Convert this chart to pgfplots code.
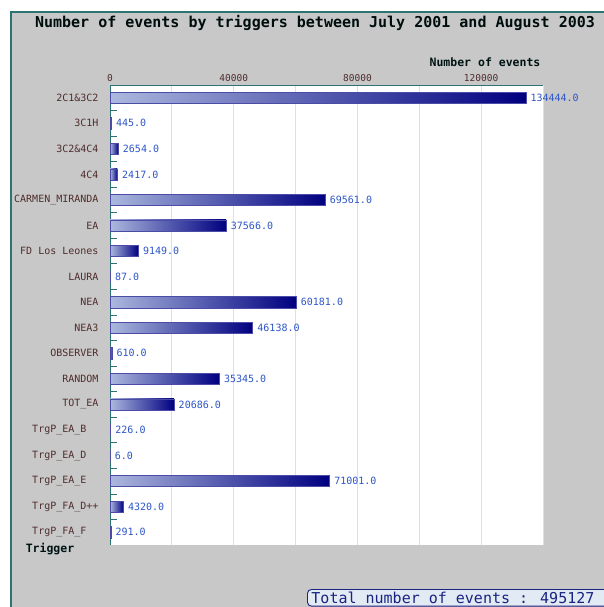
\documentclass[border=0pt]{standalone}
\usepackage{fontspec}
\setmainfont{DejaVu Sans Mono}
\usepackage{pgfplots}
\pgfplotsset{compat=1.18}
\pgfkeys{/pgf/number format/assume math mode=true}
\definecolor{bgc}{RGB}{200,200,200}
\definecolor{framec}{RGB}{45,115,115}
\definecolor{labc}{RGB}{80,45,45}
\definecolor{valc}{RGB}{45,85,200}
\definecolor{barlight}{RGB}{172,184,222}
\definecolor{bardark}{RGB}{0,0,128}
\definecolor{gridc}{RGB}{232,218,222}
\definecolor{totc}{RGB}{25,35,130}
\definecolor{totbg}{RGB}{226,234,244}
\pgfplotsset{bb/.style={xbar, bar shift=0pt, draw=bardark!70!white, line width=0.5pt, left color=barlight, middle color=bardark!72!barlight, right color=bardark}}
\begin{document}
\begin{tikzpicture}[x=1pt,y=1pt]
\useasboundingbox (0,0) rectangle (604,-607);
\clip (0,0) rectangle (604,-607);
\fill[white] (0,0) rectangle (604,-607);
\filldraw[fill=bgc, draw=framec, line width=1.3pt] (11,-12) rectangle (640,-640);
\node[font=\fontsize{15}{15}\selectfont\bfseries, text=black!90!teal] at (315,-23) {Number of events by triggers between July 2001 and August 2003};
\begin{axis}[
  at={(110pt,-545pt)}, anchor=south west, scale only axis,
  width=433pt, height=460pt,
  xbar, bar width=0.44,
  xmin=0, xmax=140000, ymin=-0.5, ymax=17.5, y dir=reverse,
  axis background/.style={fill=white},
  separate axis lines,
  axis x line*=top, axis y line*=left,
  axis line style={framec, line width=0.9pt, -},
  scaled x ticks=false,
  xtick={0,40000,80000,120000},
  minor xtick={20000,60000,100000,140000},
  xticklabels={0,40000,80000,120000},
  xticklabel style={font=\fontsize{9.5}{9.5}\selectfont, text=labc},
  xmajorgrids, xminorgrids,
  major grid style={gridc, line width=0.8pt},
  minor grid style={gridc, line width=0.8pt},
  x tick style={draw=none},
  ytick={0,...,17},
  yticklabels={2C1\&3C2, 3C1H, 3C2\&4C4, 4C4, CARMEN\_MIRANDA, EA, FD Los Leones, LAURA, NEA, NEA3, OBSERVER, RANDOM, TOT\_EA, TrgP\_EA\_B\hphantom{xx}, TrgP\_EA\_D\hphantom{xx}, TrgP\_EA\_E\hphantom{xx}, TrgP\_FA\_D++, TrgP\_FA\_F\hphantom{xx}},
  yticklabel style={font=\fontsize{10}{10}\selectfont, text=labc, xshift=-8pt},
  major y tick style={draw=none},
  minor ytick={0.5,1.5,...,16.5},
  minor y tick style={framec, line width=0.8pt},
  minor tick length=7pt,
  tick align=inside,
  point meta=x,
  nodes near coords={\pgfmathprintnumber[fixed,fixed zerofill,precision=1,1000 sep={},assume math mode=true]{\pgfplotspointmeta}},
  nodes near coords style={font=\fontsize{10}{10}\selectfont, text=valc, anchor=west, inner sep=2pt, xshift=2.5pt},
  clip=false,
]
\addplot[bb] coordinates {(134444,0)};
\addplot[bb] coordinates {(445,1)};
\addplot[bb] coordinates {(2654,2)};
\addplot[bb] coordinates {(2417,3)};
\addplot[bb] coordinates {(69561,4)};
\addplot[bb] coordinates {(37566,5)};
\addplot[bb] coordinates {(9149,6)};
\addplot[bb] coordinates {(87,7)};
\addplot[bb] coordinates {(60181,8)};
\addplot[bb] coordinates {(46138,9)};
\addplot[bb] coordinates {(610,10)};
\addplot[bb] coordinates {(35345,11)};
\addplot[bb] coordinates {(20686,12)};
\addplot[bb] coordinates {(226,13)};
\addplot[bb] coordinates {(6,14)};
\addplot[bb] coordinates {(71001,15)};
\addplot[bb] coordinates {(4320,16)};
\addplot[bb] coordinates {(291,17)};
\end{axis}
\node[font=\fontsize{11.5}{11.5}\selectfont\bfseries, text=black!85!teal] at (485,-62) {Number of events};
\node[font=\fontsize{11.5}{11.5}\selectfont\bfseries, text=black!85!teal] at (50,-549) {Trigger};
\node[draw=totc, line width=0.9pt, rounded corners=4pt, fill=totbg, text=totc, font=\fontsize{15}{15}\selectfont, anchor=north west, inner xsep=4pt, inner ysep=2.5pt] at (307,-589) {Total number of events : 495127\kern14pt\null};
\end{tikzpicture}
\end{document}
